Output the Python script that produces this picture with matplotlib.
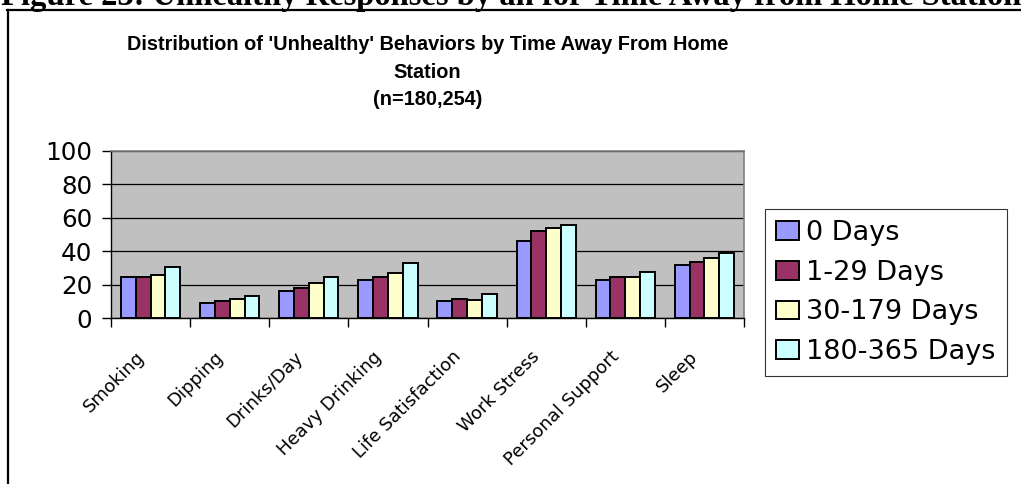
import matplotlib
matplotlib.use("Agg")
import matplotlib.pyplot as plt
import numpy as np
from matplotlib.lines import Line2D
from matplotlib.transforms import ScaledTranslation

plt.rcParams["font.family"] = ["DejaVu Sans"]

categories = ["Smoking", "Dipping", "Drinks/Day", "Heavy Drinking",
              "Life Satisfaction", "Work Stress", "Personal Support", "Sleep"]
series_names = ["0 Days", "1-29 Days", "30-179 Days", "180-365 Days"]
days_0 = [24.3, 9.2, 16.1, 22.7, 10.0, 46.0, 22.5, 31.9]
days_1_29 = [24.3, 10.0, 18.0, 24.7, 11.4, 51.8, 24.5, 33.7]
days_30_179 = [26.0, 11.4, 21.0, 27.0, 11.0, 53.8, 24.3, 35.9]
days_180_365 = [30.7, 13.0, 24.7, 33.0, 14.1, 55.6, 27.7, 39.2]
colors = ["#9999FF", "#993366", "#FFFFCC", "#CCFFFF"]

W, H = 1021, 484
fig = plt.figure(figsize=(W / 100, H / 100), dpi=100)

# page caption, clipped by the top of the image
fig.text(1 / W, 1 - 5 / H, "Figure 23: Unhealthy Responses by an for Time Away from Home Station",
         family=["Liberation Serif", "DejaVu Serif"], weight="bold", fontsize=23.5,
         ha="left", va="baseline")

# frame around the chart object
fig.add_artist(Line2D([7 / W, 1.0], [1 - 10 / H, 1 - 10 / H], color="black", lw=1.6,
                      transform=fig.transFigure))
fig.add_artist(Line2D([8 / W, 8 / W], [0.0, 1 - 10 / H], color="black", lw=1.6,
                      transform=fig.transFigure))

ax = fig.add_axes([111 / W, 1 - 318 / H, (744 - 111) / W, (318 - 151) / H])
ax.set_facecolor("#C0C0C0")

x = np.arange(len(categories))
w = 0.1875
all_series = [days_0, days_1_29, days_30_179, days_180_365]
for k, (vals, name, c) in enumerate(zip(all_series, series_names, colors)):
    ax.bar(x + (k - 1.5) * w, vals, w, color=c, edgecolor="black", linewidth=1.4,
           label=name, zorder=3)

ax.set_xlim(-0.5, len(categories) - 0.5)
ax.set_ylim(0, 100)
ax.set_yticks(range(0, 101, 20))
ax.yaxis.grid(True, color="black", linewidth=0.9, zorder=1)
ax.set_axisbelow(True)

for s in ["top", "right"]:
    ax.spines[s].set_color("#808080")
    ax.spines[s].set_linewidth(1.2)
for s in ["left", "bottom"]:
    ax.spines[s].set_color("black")
    ax.spines[s].set_linewidth(1.0)

ax.tick_params(axis="y", direction="out", length=6.5, width=1, labelsize=17.7, pad=7)
ax.set_xticks(x)
ax.set_xticks(np.arange(-0.5, len(categories)), minor=True)
ax.tick_params(axis="x", which="major", length=0, pad=26)
ax.tick_params(axis="x", which="minor", direction="out", length=6.5, width=1)
ax.set_xticklabels(categories, rotation=45, ha="right", va="center",
                   rotation_mode="anchor", fontsize=13)
offset = ScaledTranslation(-0.09, 0, fig.dpi_scale_trans)
for lab in ax.get_xticklabels():
    lab.set_transform(lab.get_transform() + offset)

fig.text(427.5 / W, 1 - 72 / H,
         "Distribution of 'Unhealthy' Behaviors by Time Away From Home\nStation\n(n=180,254)",
         ha="center", va="center", fontsize=14.3, weight="bold", linespacing=1.55,
         family=["Liberation Sans", "DejaVu Sans"])

leg = ax.legend(loc="upper left", bbox_to_anchor=(765 / W, 1 - 209 / H),
                bbox_transform=fig.transFigure, borderaxespad=0, fontsize=19.5,
                frameon=True, fancybox=False, handlelength=0.85, handleheight=0.7,
                handletextpad=0.26, labelspacing=0.5, borderpad=0.42)
leg.get_frame().set_edgecolor("black")
leg.get_frame().set_linewidth(0.8)

fig.savefig("out.png", dpi=100)
